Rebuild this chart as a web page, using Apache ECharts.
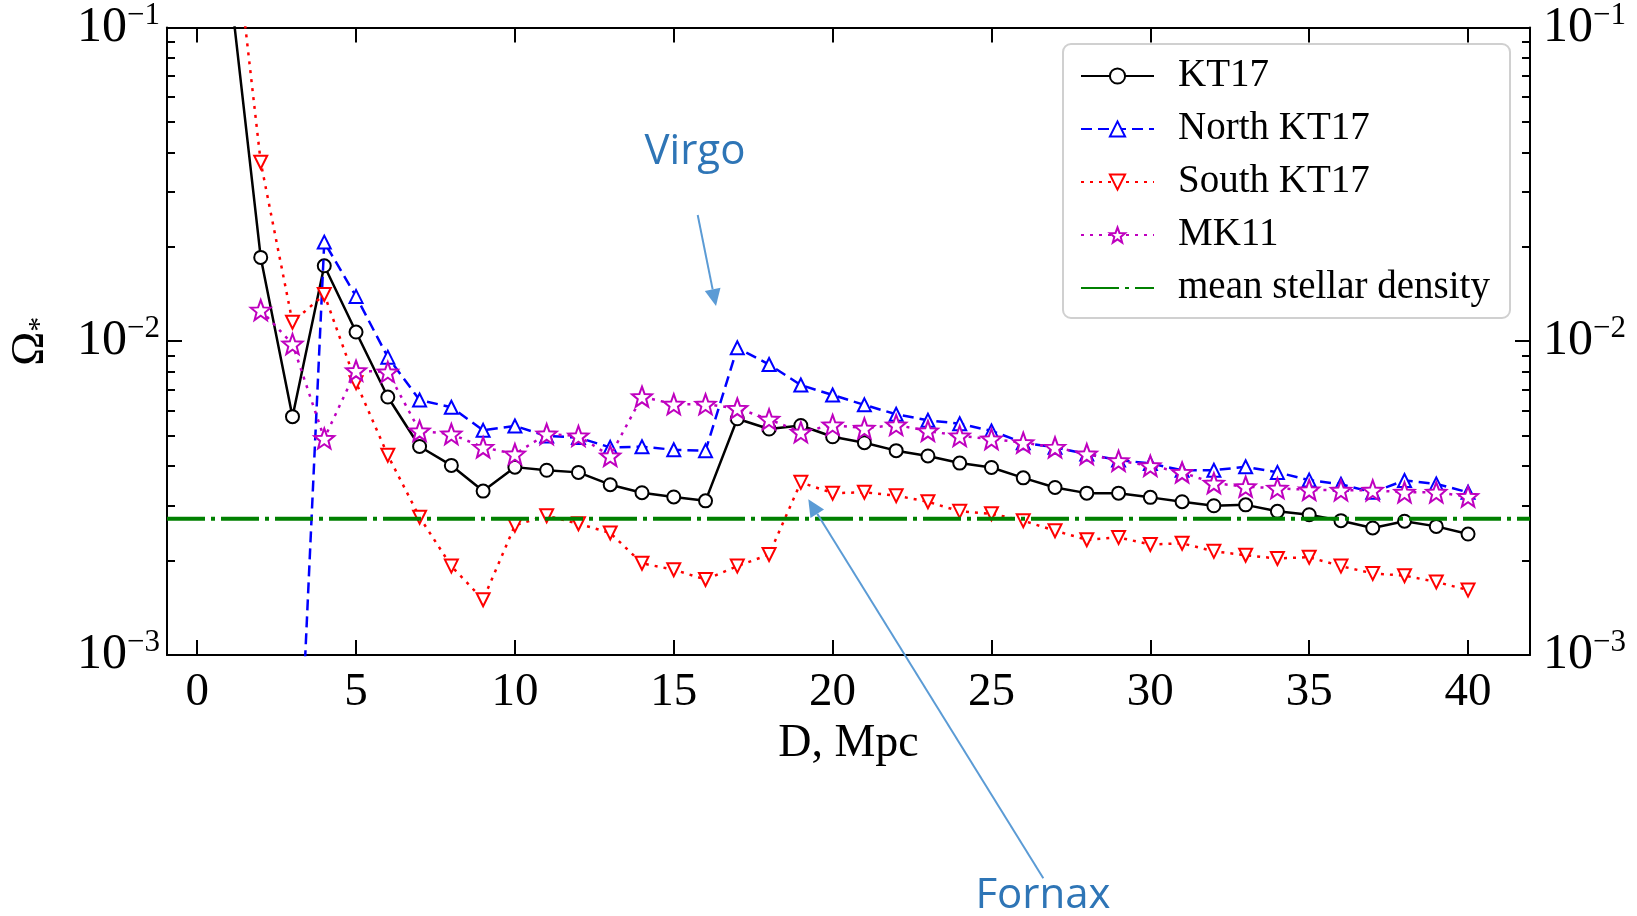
<!DOCTYPE html>
<html>
<head>
<meta charset="utf-8">
<script src="https://cdn.jsdelivr.net/npm/echarts@6/dist/echarts.min.js"></script>
<style>
  html, body { margin: 0; background: #fff; }
  #chart { width: 1637px; height: 916px; }
</style>
</head>
<body>
<div id="chart"></div>
<script>
// Stellar density parameter vs distance.
const DIST = [1, 2, 3, 4, 5, 6, 7, 8, 9, 10, 11, 12, 13, 14, 15, 16, 17, 18, 19, 20,
  21, 22, 23, 24, 25, 26, 27, 28, 29, 30, 31, 32, 33, 34, 35, 36, 37, 38, 39, 40];

const KT17 = [0.145, 0.0185, 0.00575, 0.0174, 0.0107, 0.00664, 0.00462, 0.00402, 0.00333, 0.00397,
  0.00388, 0.00382, 0.00349, 0.00329, 0.00319, 0.0031, 0.00566, 0.00525, 0.00539, 0.00496,
  0.00475, 0.00448, 0.00431, 0.00409, 0.00396, 0.00367, 0.00342, 0.00328, 0.00328, 0.00318,
  0.00308, 0.00299, 0.00301, 0.00287, 0.0028, 0.00268, 0.00254, 0.00267, 0.00257, 0.00243];

const NORTH = [null, null, 0.00013, 0.0207, 0.0139, 0.0089, 0.0065, 0.00616, 0.0052, 0.00537,
  0.00499, 0.00493, 0.00459, 0.00461, 0.00451, 0.00448, 0.00953, 0.00843, 0.00725, 0.00674,
  0.00627, 0.00585, 0.0056, 0.00546, 0.00518, 0.00475, 0.00459, 0.00437, 0.00418, 0.00408,
  0.00388, 0.00388, 0.00398, 0.00382, 0.00361, 0.0035, 0.0033, 0.0036, 0.00351, 0.0033];

const SOUTH = [0.29, 0.0372, 0.0115, 0.0141, 0.00738, 0.00433, 0.00275, 0.00192, 0.0015, 0.00259,
  0.00278, 0.00262, 0.00245, 0.00196, 0.00187, 0.00174, 0.00192, 0.00209, 0.00355, 0.00328,
  0.0033, 0.00322, 0.00308, 0.00287, 0.00282, 0.00268, 0.00249, 0.00233, 0.00237, 0.00225,
  0.00227, 0.00214, 0.00208, 0.00203, 0.00205, 0.00192, 0.00182, 0.00179, 0.00171, 0.00161];

const MK11 = [null, 0.01257, 0.0098, 0.0049, 0.00806, 0.00798, 0.00518, 0.00506, 0.00459, 0.00437,
  0.00506, 0.00499, 0.00431, 0.00666, 0.0063, 0.0063, 0.00611, 0.00564, 0.00513, 0.00541,
  0.00528, 0.00541, 0.00518, 0.00499, 0.00488, 0.00475, 0.00459, 0.00437, 0.00416, 0.00401,
  0.00382, 0.00353, 0.00344, 0.0034, 0.00336, 0.00335, 0.00335, 0.0033, 0.0033, 0.0032];

const MEAN_DENSITY = 0.00272;

const X_MIN = -0.95, X_MAX = 41.95;
const X_TICKS = [0, 5, 10, 15, 20, 25, 30, 35, 40];
const Y_MIN = 0.001, Y_MAX = 0.1;
const MINOR_MANTISSA = [2, 3, 4, 5, 6, 7, 8, 9];

const SERIF = '"Liberation Serif", "DejaVu Serif", serif';
const NOTE = '"Open Sans", "Liberation Sans", sans-serif';
const NOTE_TEXT = '#2E75B6';
const NOTE_ARROW = '#5B9BD5';

const pairs = (ys) => DIST.map((d, i) => [d, ys[i]]);

// minor log ticks, placed on a helper value axis in log10 space
const minorLog = [];
[-3, -2].forEach(e => MINOR_MANTISSA.forEach(m => minorLog.push(Math.log10(m) + e)));

// 5-point star outline for the MK11 markers
function starPath() {
  const pts = [];
  for (let i = 0; i < 10; i++) {
    const r = i % 2 ? 0.42 : 1;
    const a = -Math.PI / 2 + i * Math.PI / 5;
    pts.push((r * Math.cos(a)).toFixed(3) + ' ' + (r * Math.sin(a)).toFixed(3));
  }
  return 'path://M' + pts.join(' L') + ' Z';
}

const decadeLabel = (v) => {
  const e = Math.round(Math.log10(v));
  return '{b|10}{s|' + (e < 0 ? '\u2212' + (-e) : e) + '}';
};
const decadeRich = {
  b: { fontFamily: SERIF, fontSize: 50, lineHeight: 50, color: '#000' },
  s: { fontFamily: SERIF, fontSize: 31, lineHeight: 31, color: '#000', padding: [0, 0, 24, 0] },
};

const axisLine = { onZero: false, lineStyle: { color: '#000', width: 2 } };
const tickStyle = { color: '#000', width: 2 };

function arrow(x1, y1, x2, y2) {
  const ang = Math.atan2(y2 - y1, x2 - x1);
  const len = 17, half = 8;
  const bx = x2 - len * Math.cos(ang), by = y2 - len * Math.sin(ang);
  const nx = -Math.sin(ang) * half, ny = Math.cos(ang) * half;
  return [
    { type: 'line', shape: { x1, y1, x2: bx, y2: by }, style: { stroke: NOTE_ARROW, lineWidth: 2 }, z: 10 },
    { type: 'polygon', shape: { points: [[x2, y2], [bx + nx, by + ny], [bx - nx, by - ny]] },
      style: { fill: NOTE_ARROW }, z: 10 },
  ];
}

const chart = echarts.init(document.getElementById('chart'), null, { renderer: 'canvas' });

const hollow = (color) => ({ color: '#fff', borderColor: color, borderWidth: 2 });

chart.setOption({
  animation: false,
  grid: { left: 164, right: 107, top: 25, bottom: 261 },
  legend: {
    orient: 'vertical', left: 1075, top: 51,
    itemWidth: 73, itemHeight: 19, itemGap: 13,
    textStyle: { fontFamily: SERIF, fontSize: 39, lineHeight: 40, color: '#000', padding: [0, 0, 0, 19] },
    data: ['KT17', 'North KT17', 'South KT17', 'MK11',
      { name: 'mean stellar density', itemStyle: { opacity: 0 } }],
  },
  xAxis: [
    {
      type: 'value', min: X_MIN, max: X_MAX, position: 'bottom',
      name: 'D, Mpc', nameLocation: 'middle', nameGap: 65,
      nameTextStyle: { fontFamily: SERIF, fontSize: 46, color: '#000' },
      axisLine, splitLine: { show: false },
      axisTick: { inside: true, length: 15, customValues: X_TICKS, lineStyle: tickStyle },
      axisLabel: { customValues: X_TICKS, margin: 14, fontFamily: SERIF, fontSize: 47, color: '#000' },
    },
    {
      type: 'value', min: X_MIN, max: X_MAX, position: 'top',
      axisLine, splitLine: { show: false },
      axisTick: { inside: true, length: 15, customValues: X_TICKS, lineStyle: tickStyle },
      axisLabel: { show: false },
    },
  ],
  yAxis: [
    {
      type: 'log', min: Y_MIN, max: Y_MAX, position: 'left',
      name: '{o|\u03A9}{s|*}', nameLocation: 'middle', nameGap: 112, nameRotate: 90,
      nameTextStyle: {
        rich: {
          o: { fontFamily: SERIF, fontSize: 46, color: '#000' },
          s: { fontFamily: SERIF, fontSize: 30, color: '#000', padding: [18, 0, 0, 0] },
        },
      },
      axisLine, splitLine: { show: false },
      axisTick: { inside: true, length: 15, lineStyle: tickStyle },
      axisLabel: { margin: 7, formatter: decadeLabel, rich: decadeRich },
    },
    {
      type: 'log', min: Y_MIN, max: Y_MAX, position: 'right',
      axisLine, splitLine: { show: false },
      axisTick: { inside: true, length: 15, lineStyle: tickStyle },
      axisLabel: { margin: 13, formatter: decadeLabel, rich: decadeRich },
    },
    {
      type: 'value', min: -3, max: -1, position: 'left',
      axisLine: { show: false, onZero: false }, splitLine: { show: false }, axisLabel: { show: false },
      axisTick: { inside: true, length: 8, customValues: minorLog, lineStyle: tickStyle },
    },
    {
      type: 'value', min: -3, max: -1, position: 'right',
      axisLine: { show: false, onZero: false }, splitLine: { show: false }, axisLabel: { show: false },
      axisTick: { inside: true, length: 8, customValues: minorLog, lineStyle: tickStyle },
    },
  ],
  series: [
    {
      name: 'KT17', type: 'line', data: pairs(KT17), z: 2,
      symbol: 'circle', symbolSize: 13, itemStyle: hollow('#000'),
      lineStyle: { color: '#000', width: 2.5 },
    },
    {
      name: 'North KT17', type: 'line', data: pairs(NORTH), z: 3,
      symbol: 'triangle', symbolSize: 13, itemStyle: hollow('#0000ff'),
      lineStyle: { color: '#0000ff', width: 2.5, type: [11, 6] },
    },
    {
      name: 'South KT17', type: 'line', data: pairs(SOUTH), z: 4,
      symbol: 'triangle', symbolRotate: 180, symbolSize: 13, itemStyle: hollow('#ff0000'),
      lineStyle: { color: '#ff0000', width: 2.5, type: [3, 6] },
    },
    {
      name: 'MK11', type: 'line', data: pairs(MK11), z: 5,
      symbol: starPath(), symbolSize: 20, itemStyle: hollow('#bf00bf'),
      lineStyle: { color: '#bf00bf', width: 2.5, type: [3, 6] },
    },
    {
      name: 'mean stellar density', type: 'line', data: [[X_MIN, MEAN_DENSITY], [X_MAX, MEAN_DENSITY]], z: 6,
      symbol: 'none', itemStyle: { color: '#008000' },
      lineStyle: { color: '#008000', width: 4, type: [38, 6, 4, 6] },
    },
  ],
  graphic: [
    { type: 'rect', shape: { x: 1063, y: 44, width: 447, height: 274, r: 8 },
      style: { fill: '#fff', stroke: '#d0d0d0', lineWidth: 2 }, z: 1 },
    { type: 'text', x: 695, y: 152, style: { text: 'Virgo', font: '42px ' + NOTE, fill: NOTE_TEXT, align: 'center', verticalAlign: 'middle' }, z: 10 },
    { type: 'text', x: 1043, y: 896, style: { text: 'Fornax', font: '42px ' + NOTE, fill: NOTE_TEXT, align: 'center', verticalAlign: 'middle' }, z: 10 },
    ...arrow(697.7, 215, 716, 306),
    ...arrow(1043.3, 878.3, 808.3, 499.3),
  ],
});
</script>
</body>
</html>
